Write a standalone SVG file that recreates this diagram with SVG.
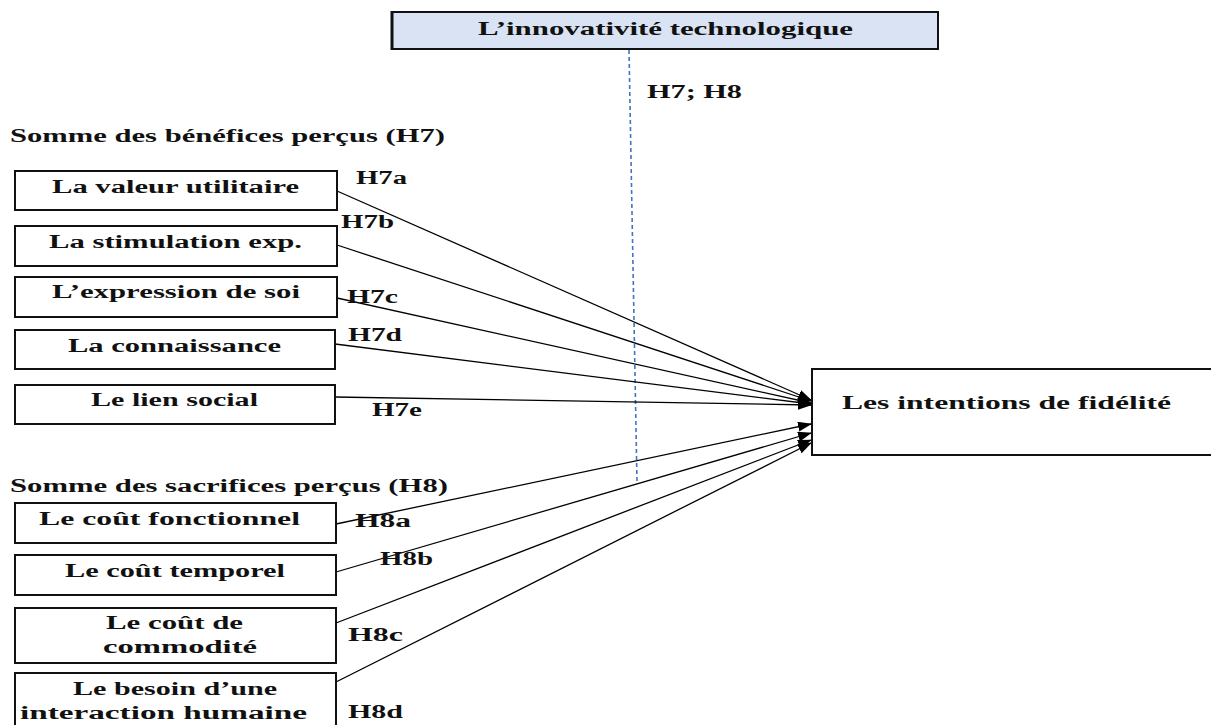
<svg xmlns="http://www.w3.org/2000/svg" width="1211" height="725" viewBox="0 0 1211 725">
<style>
text{font-family:"Liberation Serif","Times New Roman",serif;font-weight:bold;font-size:18px;fill:#111}
.box{fill:#fff;stroke:#111;stroke-width:2}
.top{fill:#dae3f3;stroke:#111;stroke-width:2}
.conn{stroke:#000;stroke-width:1.3;fill:none;marker-end:url(#ah)}
.dash{stroke:#4472c4;stroke-width:1.6;stroke-dasharray:4 3;fill:none}
</style>
<defs>
<marker id="ah" markerUnits="userSpaceOnUse" markerWidth="14" markerHeight="10" refX="13" refY="5" orient="auto">
<path d="M0,0 L14,5 L0,10 Z" fill="#000"/>
</marker>
</defs>
<rect width="1211" height="725" fill="#fff"/>

<g id="connectors">
<line class="dash" x1="629" y1="50" x2="637" y2="482"/>
<line class="conn" x1="337" y1="191" x2="811" y2="400"/>
<line class="conn" x1="337" y1="245" x2="811" y2="401"/>
<line class="conn" x1="337" y1="298" x2="811" y2="403"/>
<line class="conn" x1="335" y1="344" x2="811" y2="404"/>
<line class="conn" x1="335" y1="397" x2="811" y2="405"/>
<line class="conn" x1="336" y1="524" x2="811" y2="424"/>
<line class="conn" x1="336" y1="572" x2="811" y2="433"/>
<line class="conn" x1="336" y1="623" x2="811" y2="440"/>
<line class="conn" x1="336" y1="682" x2="811" y2="443"/>
</g>

<g id="innovativite">
<rect class="top" x="392" y="12" width="546" height="37"/>
<line x1="392" y1="11" x2="392" y2="50" stroke="#111" stroke-width="3"/>
<text x="478" y="35" textLength="375" lengthAdjust="spacingAndGlyphs">L’innovativité technologique</text>
</g>
<text x="647" y="98" textLength="95" lengthAdjust="spacingAndGlyphs">H7; H8</text>

<text x="10" y="142" textLength="435" lengthAdjust="spacingAndGlyphs">Somme des bénéfices perçus (H7)</text>

<g id="valeur-utilitaire">
<rect class="box" x="15" y="171" width="322" height="39"/>
<text x="52" y="193" textLength="247" lengthAdjust="spacingAndGlyphs">La valeur utilitaire</text>
</g>
<g id="stimulation">
<rect class="box" x="15" y="226" width="322" height="40"/>
<text x="49" y="248" textLength="253" lengthAdjust="spacingAndGlyphs">La stimulation exp.</text>
</g>
<g id="expression">
<rect class="box" x="15" y="277" width="322" height="40"/>
<text x="52" y="298" textLength="248" lengthAdjust="spacingAndGlyphs">L’expression de soi</text>
</g>
<g id="connaissance">
<rect class="box" x="15" y="330" width="320" height="39"/>
<text x="68" y="352" textLength="213" lengthAdjust="spacingAndGlyphs">La connaissance</text>
</g>
<g id="lien-social">
<rect class="box" x="15" y="385" width="320" height="39"/>
<text x="91" y="406" textLength="167" lengthAdjust="spacingAndGlyphs">Le lien social</text>
</g>

<g id="labels-h7">
<text x="356" y="184" textLength="51" lengthAdjust="spacingAndGlyphs">H7a</text>
<text x="341" y="228" textLength="53" lengthAdjust="spacingAndGlyphs">H7b</text>
<text x="347" y="303" textLength="51" lengthAdjust="spacingAndGlyphs">H7c</text>
<text x="348" y="341" textLength="54" lengthAdjust="spacingAndGlyphs">H7d</text>
<text x="372" y="416" textLength="50" lengthAdjust="spacingAndGlyphs">H7e</text>
</g>

<text x="10" y="492" textLength="438" lengthAdjust="spacingAndGlyphs">Somme des sacrifices perçus (H8)</text>

<g id="cout-fonctionnel">
<rect class="box" x="15" y="503" width="321" height="40"/>
<text x="39" y="525" textLength="261" lengthAdjust="spacingAndGlyphs">Le coût fonctionnel</text>
</g>
<g id="cout-temporel">
<rect class="box" x="15" y="555" width="321" height="40"/>
<text x="65" y="577" textLength="220" lengthAdjust="spacingAndGlyphs">Le coût temporel</text>
</g>
<g id="cout-commodite">
<rect class="box" x="15" y="608" width="321" height="55"/>
<text x="106" y="629" textLength="137" lengthAdjust="spacingAndGlyphs">Le coût de</text>
<text x="103" y="653" textLength="154" lengthAdjust="spacingAndGlyphs">commodité</text>
</g>
<g id="interaction-humaine">
<rect class="box" x="15" y="673" width="321" height="70"/>
<text x="73" y="695" textLength="204" lengthAdjust="spacingAndGlyphs">Le besoin d’une</text>
<text x="20" y="719" textLength="287" lengthAdjust="spacingAndGlyphs">interaction humaine</text>
</g>

<g id="labels-h8">
<text x="355" y="527" textLength="56" lengthAdjust="spacingAndGlyphs">H8a</text>
<text x="380" y="565" textLength="53" lengthAdjust="spacingAndGlyphs">H8b</text>
<text x="348" y="641" textLength="55" lengthAdjust="spacingAndGlyphs">H8c</text>
<text x="348" y="718" textLength="55" lengthAdjust="spacingAndGlyphs">H8d</text>
</g>

<g id="intentions-fidelite">
<rect class="box" x="812" y="369" width="410" height="86"/>
<text x="842" y="409" textLength="329" lengthAdjust="spacingAndGlyphs">Les intentions de fidélité</text>
</g>
</svg>
